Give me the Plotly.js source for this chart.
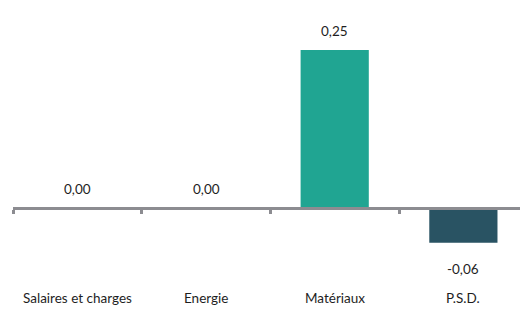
<!DOCTYPE html>
<html>
<head>
<meta charset="utf-8">
<script src="https://cdn.plot.ly/plotly-3.0.1.min.js"></script>
<style>html,body{margin:0;padding:0;background:#fff;}#chart{width:520px;height:309px;}</style>
</head>
<body>
<div id="chart"></div>
<script>
const categories = ["Salaires et charges", "Energie", "Matériaux", "P.S.D."];
const values = [0.0, 0.0, 0.25, -0.056];
const barColors = ["#20A592", "#20A592", "#20A592", "#295363"];

const yMin = -0.123, yMax = 0.2976;
const fmt = v => v.toFixed(2).replace('.', ',');
const FONT = 'Lato, "Open Sans", sans-serif';

const trace = {
  type: 'bar',
  x: categories,
  y: values,
  marker: {color: barColors},
  width: 0.53,
  hoverinfo: 'none'
};

const annotations = [];
categories.forEach((c, i) => {
  const v = values[i];
  annotations.push({
    x: c, y: v, xref: 'x', yref: 'y',
    text: fmt(v), showarrow: false,
    yanchor: v >= 0 ? 'bottom' : 'top',
    yshift: v >= 0 ? 9 : -16,
    font: {family: FONT, size: 13.5, color: '#1e1e1e'}
  });
  annotations.push({
    x: c, y: 0, xref: 'x', yref: 'paper',
    text: c, showarrow: false,
    yanchor: 'middle', yshift: -13,
    font: {family: FONT, size: 13.5, color: '#1e1e1e'}
  });
});

const layout = {
  width: 520, height: 309,
  margin: {l: 13, r: 0, t: 20, b: 24},
  paper_bgcolor: '#fff', plot_bgcolor: '#fff',
  showlegend: false,
  xaxis: {
    type: 'category',
    categoryorder: 'array', categoryarray: categories,
    range: [-0.5, 3.44],
    anchor: 'free',
    position: (0 - yMin) / (yMax - yMin),
    showline: true, linecolor: '#8C8C91', linewidth: 3,
    ticks: 'outside', tickson: 'boundaries', ticklen: 4, tickwidth: 3, tickcolor: '#8C8C91',
    showticklabels: false, showgrid: false, zeroline: false, fixedrange: true
  },
  yaxis: {
    range: [yMin, yMax], visible: false, showgrid: false, zeroline: false, fixedrange: true
  },
  annotations: annotations
};

Plotly.newPlot('chart', [trace], layout, {displayModeBar: false, staticPlot: true});
</script>
</body>
</html>
